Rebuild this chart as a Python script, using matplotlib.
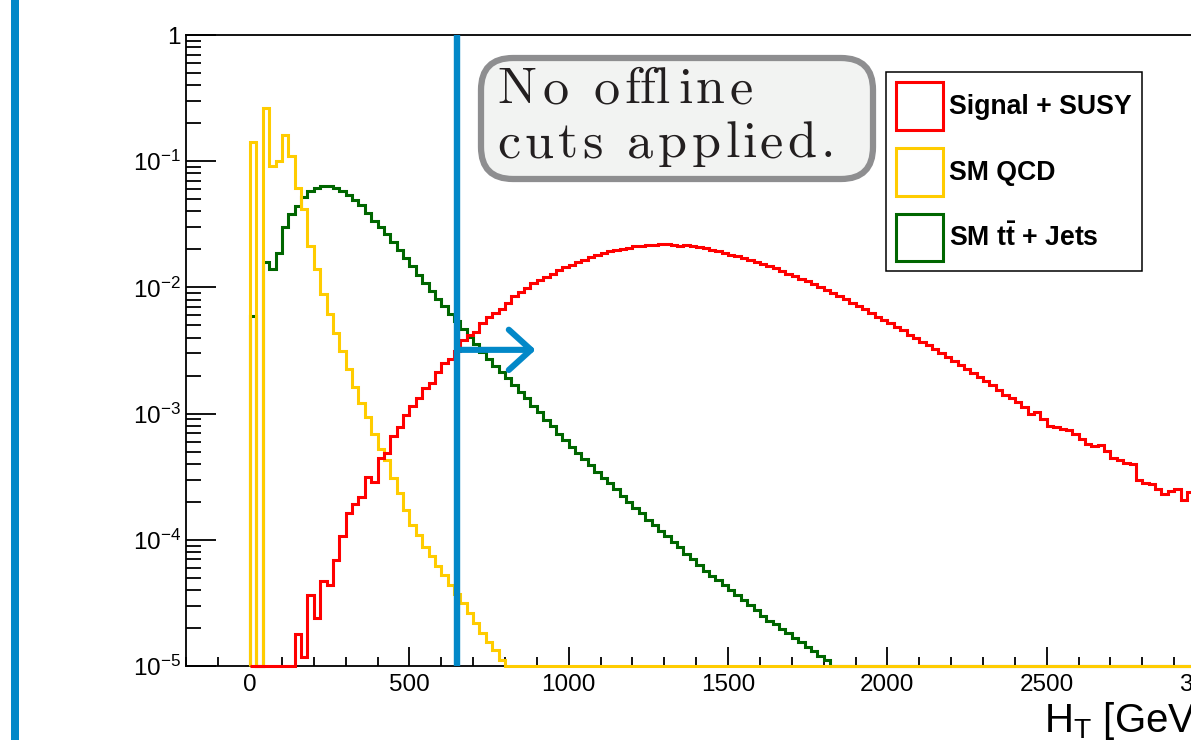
import numpy as np
import matplotlib
matplotlib.use('Agg')
import matplotlib.pyplot as plt
from matplotlib.patches import FancyBboxPatch, Rectangle, Patch
from matplotlib.ticker import MultipleLocator, LogLocator, FuncFormatter, NullFormatter

# ---------------- data (log10 of normalised entries per 20 GeV bin) ----------------
bin_width = 20.0
n_bins = 150
series_names = ["Signal + SUSY", "SM QCD", r"SM $\mathbf{t\bar{t}}$ + Jets"]

signal_first_bin = 7
signal_log10 = [
    -4.75, -4.93, -4.44,
    -4.62, -4.33, -4.36, -4.16, -3.97, -3.79, -3.72, -3.66, -3.50, -3.54,
    -3.35, -3.31, -3.18, -3.11, -3.01, -2.94, -2.88, -2.80, -2.755, -2.67,
    -2.60, -2.57, -2.50, -2.42, -2.38, -2.35, -2.285, -2.232, -2.20, -2.174,
    -2.126, -2.068, -2.04, -2.005, -1.968, -1.94, -1.915, -1.89, -1.865, -1.84,
    -1.82, -1.80, -1.78, -1.76, -1.742, -1.728, -1.715, -1.704, -1.695, -1.684,
    -1.675, -1.67, -1.665, -1.662, -1.66, -1.659, -1.662, -1.668, -1.663, -1.675,
    -1.682, -1.69, -1.70, -1.712, -1.725, -1.74, -1.752, -1.768, -1.783, -1.80,
    -1.815, -1.83, -1.85, -1.872, -1.89, -1.912, -1.932, -1.952, -1.975, -1.995,
    -2.02, -2.047, -2.07, -2.095, -2.12, -2.15, -2.175, -2.20, -2.235, -2.26,
    -2.285, -2.31, -2.34, -2.375, -2.40, -2.435, -2.46, -2.49, -2.52, -2.55,
    -2.58, -2.615, -2.65, -2.68, -2.71, -2.745, -2.77, -2.81, -2.85, -2.875,
    -2.91, -2.95, -3.00, -2.99, -3.04, -3.10, -3.11, -3.12, -3.13, -3.16,
    -3.20, -3.24, -3.26, -3.245, -3.30, -3.35, -3.37, -3.39, -3.40, -3.53,
    -3.55, -3.555, -3.60, -3.635, -3.61, -3.60, -3.685, -3.62, -3.73, -3.76,
]

qcd_first_bin = 0
qcd_log10 = [
    -0.845, None, -0.58, -1.04, -1.00, -0.79, -0.96, -1.215, -1.38, -1.67,
    -1.857, -2.05, -2.21, -2.36, -2.50, -2.65, -2.79, -2.915, -3.03, -3.16,
    -3.28, -3.37, -3.51, -3.63, -3.76, -3.88, -3.96, -4.055, -4.13, -4.21,
    -4.28, -4.36, -4.43, -4.50, -4.58, -4.66, -4.74, -4.81, -4.87, -4.95,
]

ttbar_first_bin = 0
ttbar_log10 = [
    -2.23, None, -1.80, -1.855, -1.73, -1.52, -1.42, -1.355, -1.28, -1.24,
    -1.21, -1.194, -1.195, -1.215, -1.24, -1.27, -1.305, -1.35, -1.41, -1.47,
    -1.525, -1.58, -1.64, -1.70, -1.77, -1.83, -1.90, -1.965, -2.03, -2.09,
    -2.15, -2.21, -2.27, -2.33, -2.39, -2.45, -2.51, -2.57, -2.62, -2.67,
    -2.72, -2.77, -2.83, -2.88, -2.94, -2.99, -3.05, -3.10, -3.16, -3.21,
    -3.265, -3.31, -3.36, -3.41, -3.46, -3.51, -3.55, -3.60, -3.65, -3.70,
    -3.75, -3.79, -3.84, -3.88, -3.93, -3.97, -4.02, -4.06, -4.11, -4.15,
    -4.20, -4.245, -4.285, -4.32, -4.36, -4.40, -4.44, -4.48, -4.52, -4.56,
    -4.60, -4.64, -4.67, -4.71, -4.74, -4.78, -4.81, -4.85, -4.88, -4.92,
    -4.95,
]

cut_value = 650.0
arrow_y = 3.2e-3
box_lines = [["N", "o", " ", "o", "ffl", "i", "n", "e"],
             ["c", "u", "t", "s", " ", "a", "p", "p", "l", "i", "e", "d", "."]]
x_title = r"H$_{\mathrm{T}}$ [GeV]"

colors = ["#ff0000", "#ffcc00", "#006600"]
blue = "#0288c8"


def to_bins(first, logs):
    v = np.zeros(n_bins)
    for i, l in enumerate(logs):
        if l is not None:
            v[first + i] = 10.0 ** l
    return v


signal = to_bins(signal_first_bin, signal_log10)
qcd = to_bins(qcd_first_bin, qcd_log10)
ttbar = to_bins(ttbar_first_bin, ttbar_log10)
edges = np.arange(n_bins + 1) * bin_width

# ---------------- figure ----------------
plt.rcParams['font.family'] = ['Liberation Sans', 'DejaVu Sans']
plt.rcParams['mathtext.fontset'] = 'custom'
plt.rcParams['mathtext.rm'] = 'Liberation Sans'
plt.rcParams['mathtext.it'] = 'Liberation Sans:italic'
plt.rcParams['mathtext.bf'] = 'Liberation Sans:bold'

W, H = 1191, 740
fig = plt.figure(figsize=(W / 100, H / 100), dpi=100)


def px_rect(l, t, r, b):
    return [l / W, 1 - b / H, (r - l) / W, (b - t) / H]


ax = fig.add_axes(px_rect(186.3, 35, 1206.1, 666))
ax.set_yscale('log')
ax.set_xlim(-200, 3000)
ymin = 1e-5
ax.set_ylim(ymin, 1)

lw = 2.2
for vals, c, z in [(ttbar, colors[2], 3), (qcd, colors[1], 4), (signal, colors[0], 5)]:
    ax.stairs(np.clip(vals, ymin, None), edges, baseline=ymin, color=c, lw=lw,
              clip_on=False, zorder=z)

ax.axvline(cut_value, color=blue, lw=4.6, zorder=6)
ax.annotate('', xy=(896, arrow_y), xytext=(cut_value, arrow_y),
            arrowprops=dict(arrowstyle='->,head_length=1.6,head_width=1.45',
                            lw=4.4, color=blue, mutation_scale=10,
                            shrinkA=0, shrinkB=0, capstyle='round',
                            joinstyle='round'), zorder=7)

# axes styling
for s in ['top', 'left', 'bottom', 'right']:
    ax.spines[s].set_linewidth(1.3)
    ax.spines[s].set_zorder(2)
ax.xaxis.set_major_locator(MultipleLocator(500))
ax.xaxis.set_minor_locator(MultipleLocator(100))
ax.yaxis.set_major_locator(LogLocator(base=10, numticks=10))
ax.yaxis.set_minor_locator(LogLocator(base=10, subs=np.arange(2, 10), numticks=10))
ax.yaxis.set_minor_formatter(NullFormatter())


def yfmt(v, pos):
    e = int(round(np.log10(v)))
    if e == 0:
        return '1'
    return r'$10^{%d}$' % e


ax.yaxis.set_major_formatter(FuncFormatter(yfmt))
ax.xaxis.set_major_formatter(FuncFormatter(lambda v, p: '%d' % v))
ax.tick_params(axis='both', which='both', direction='in', top=False, right=False,
               width=1.3, colors='black')
ax.tick_params(axis='y', which='major', length=21.5, pad=4, labelsize=17.5)
ax.tick_params(axis='y', which='minor', length=10.8)
ax.tick_params(axis='x', which='major', length=13.7, pad=6, labelsize=17.5)
ax.tick_params(axis='x', which='minor', length=6.8)

ax.text(0.9988, -0.105, x_title, transform=ax.transAxes, ha='right', va='baseline',
        fontsize=29)

# legend
handles = [Patch(facecolor='white', edgecolor=c, linewidth=lw) for c in colors]
leg = fig.legend(handles, series_names, loc='upper left',
                 bbox_to_anchor=(886 / W, 1 - 72 / H), borderaxespad=0,
                 prop={'weight': 'bold', 'size': 19.2}, handlelength=1.76,
                 handleheight=2.39, labelspacing=0.67, handletextpad=0.24,
                 borderpad=0.37, fancybox=False, framealpha=1, edgecolor='black')
leg.get_frame().set_linewidth(1.1)

# overlay in pixel coordinates for the annotation box and the side bar
ov = fig.add_axes([0, 0, 1, 1], zorder=10)
ov.set_xlim(0, W)
ov.set_ylim(H, 0)
ov.axis('off')
ov.patch.set_alpha(0)
ov.add_patch(Rectangle((11, 0), 8, H, facecolor=blue, edgecolor='none'))
ov.add_patch(FancyBboxPatch((481, 58), 392, 121,
                            boxstyle='round,pad=0,rounding_size=32',
                            linewidth=4.5, edgecolor='#8e8e90', facecolor='#f2f3f2'))

renderer = fig.canvas.get_renderer()
box_font = dict(fontfamily='cmr10', fontsize=37.5, color='#231f20')


def ink_width(s):
    t = ov.text(0, 0, s, **box_font)
    w = t.get_window_extent(renderer).width
    t.remove()
    return w


def spread_text(x0, y, units, target_width):
    full = ''.join(units)
    natural = ink_width(full)
    k = target_width / natural
    prefix = ''
    for u in units:
        prefix += u
        if u.strip() == '':
            continue
        left = ink_width(prefix) - ink_width(u)
        ov.text(x0 + left * k, y, u, ha='left', va='baseline', **box_font)


spread_text(497, 103, box_lines[0], 260)
spread_text(497, 157, box_lines[1], 341)

fig.savefig('out.png', dpi=100)
